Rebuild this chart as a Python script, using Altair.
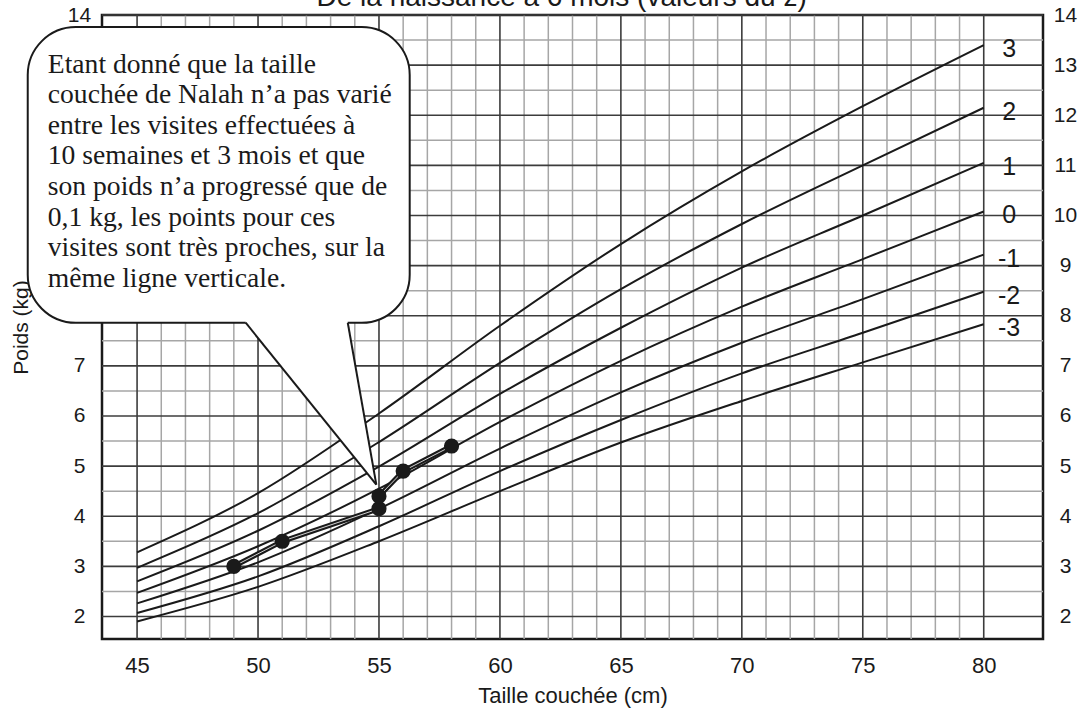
import altair as alt
import pandas as pd

# ---------------------------------------------------------------
# Poids pour la taille couchée (filles), courbes des valeurs du z
# ---------------------------------------------------------------
lengths = [45, 50, 55, 60, 65, 70, 75, 80]
z_neg3 = [1.90, 2.59, 3.50, 4.50, 5.47, 6.30, 7.07, 7.83]
z_neg2 = [2.07, 2.80, 3.80, 4.90, 5.92, 6.85, 7.66, 8.48]
z_neg1 = [2.26, 3.08, 4.15, 5.35, 6.47, 7.46, 8.33, 9.22]
z_0 = [2.47, 3.40, 4.55, 5.88, 7.10, 8.18, 9.13, 10.08]
z_pos1 = [2.70, 3.71, 4.99, 6.44, 7.76, 8.96, 10.00, 11.05]
z_pos2 = [2.97, 4.06, 5.48, 7.06, 8.53, 9.83, 11.00, 12.15]
z_pos3 = [3.28, 4.46, 6.05, 7.80, 9.43, 10.88, 12.18, 13.40]
z_names = ["-3", "-2", "-1", "0", "1", "2", "3"]
z_series = [z_neg3, z_neg2, z_neg1, z_0, z_pos1, z_pos2, z_pos3]

# Visites de Nalah (taille couchée en cm, poids en kg), dans l'ordre
visit_length = [49, 51, 55, 55, 56, 58]
visit_weight = [3.0, 3.5, 4.15, 4.4, 4.9, 5.4]

# Quadrillage
x_major = list(range(45, 81, 5))
x_minor = [v for v in range(45, 81) if v % 5]
y_major = list(range(2, 15))
y_minor = [v + 0.5 for v in range(2, 14)]

# Texte de la bulle
note_lines = [
    "Etant donné que la taille",
    "couchée de Nalah n’a pas varié",
    "entre les visites effectuées à",
    "10 semaines et 3 mois et que",
    "son poids n’a progressé que de",
    "0,1 kg, les points pour ces",
    "visites sont très proches, sur la",
    "même ligne verticale.",
]
title_text = "De la naissance à 6 mois (valeurs du z)"

# Bulle : rectangle (cm, kg) et pointe
bubble_box = {"x": 40.48, "x2": 56.27, "y": 13.76, "y2": 7.86}
tail_left = (49.49, 7.86)
tail_right = (53.71, 7.86)
tail_tip = (54.89, 4.63)

X_DOMAIN = [43.55, 82.45]
Y_DOMAIN = [1.55, 14.0]

INK = "#1a1a1a"
FONT = "Liberation Sans"

# ---------------------------------------------------------------
curves = pd.DataFrame(
    [{"length": l, "weight": w, "z": name}
     for name, series in zip(z_names, z_series)
     for l, w in zip(lengths, series)]
)
z_labels = pd.DataFrame(
    {"z": z_names, "weight": [s[-1] for s in z_series], "length": [81.05] * len(z_names)}
)
visits = pd.DataFrame(
    {"length": visit_length, "weight": visit_weight, "visit": list(range(len(visit_length)))}
)


# fill of the tail, slightly overlapping the bubble's bottom edge
def on_left_edge(x):
    (x0, y0), (x1, y1) = tail_left, tail_tip
    return y0 + (y1 - y0) * (x - x0) / (x1 - x0)


overlap = 0.09
tail_fill = pd.DataFrame({
    "x": [tail_left[0], tail_right[0] - 0.01, tail_right[0], tail_tip[0]],
    "top": [tail_left[1] + overlap, tail_right[1] + overlap, tail_right[1], tail_tip[1]],
})
tail_fill["bottom"] = [tail_left[1], on_left_edge(tail_right[0] - 0.01),
                       on_left_edge(tail_right[0]), tail_tip[1]]
tail_sides = pd.DataFrame({
    "x": [tail_left[0], tail_right[0]], "y": [tail_left[1], tail_right[1]],
    "x2": [tail_tip[0], tail_tip[0]], "y2": [tail_tip[1], tail_tip[1]],
})

xs = alt.Scale(domain=X_DOMAIN, nice=False, zero=False)
ys = alt.Scale(domain=Y_DOMAIN, nice=False, zero=False)

x_axis = alt.Axis(values=x_major, title="Taille couchée (cm)", grid=False, ticks=False,
                  domain=False, labelFontSize=22, labelPadding=16, labelColor=INK,
                  titleFontSize=22, titleFontWeight="normal", titlePadding=9,
                  titleColor=INK, labelFont=FONT, titleFont=FONT)
y_axis_left = alt.Axis(values=y_major, orient="left", title="Poids (kg)", grid=False,
                       ticks=False, domain=False, labelFontSize=21, labelAlign="center",
                       labelPadding=23, labelColor=INK, titleFontSize=21,
                       titleFontWeight="normal", titlePadding=36, titleColor=INK,
                       labelFont=FONT, titleFont=FONT)
y_axis_right = alt.Axis(values=y_major, orient="right", title=None, grid=False,
                        ticks=False, domain=False, labelFontSize=21, labelAlign="center",
                        labelPadding=22, labelColor=INK, labelFont=FONT)


def X(field):
    return alt.X(field, type="quantitative", scale=xs, axis=x_axis)


def YL(field):
    return alt.Y(field, type="quantitative", scale=ys, axis=y_axis_left)


def YR(field):
    return alt.Y(field, type="quantitative", scale=ys, axis=y_axis_right)


# --- quadrillage (porte l'axe de droite) ---
minor_v = alt.Chart(pd.DataFrame({"v": x_minor})).mark_rule(
    color="#a6a6a6", strokeWidth=1.5).encode(x=X("v"))
minor_h = alt.Chart(pd.DataFrame({"v": y_minor})).mark_rule(
    color="#a6a6a6", strokeWidth=1.5).encode(y=YR("v"))
major_v = alt.Chart(pd.DataFrame({"v": x_major})).mark_rule(
    color="#3c3c3c", strokeWidth=1.6).encode(x=X("v"))
major_h = alt.Chart(pd.DataFrame({"v": y_major})).mark_rule(
    color="#3c3c3c", strokeWidth=1.6).encode(y=YR("v"))
grid = alt.layer(minor_v, minor_h, major_v, major_h)

# --- courbes et étiquettes des valeurs du z ---
curve_lines = alt.Chart(curves).mark_line(
    color=INK, strokeWidth=2, interpolate="monotone").encode(
    x=X("length"), y=YL("weight"), detail="z:N")
curve_labels = alt.Chart(z_labels).mark_text(
    fontSize=25, font=FONT, color=INK, align="center", baseline="middle", dy=4).encode(
    x=X("length"), y=YL("weight"), text="z:N")

# --- trajectoire de Nalah ---
path = alt.Chart(visits).mark_line(color=INK, strokeWidth=5).encode(
    x=X("length"), y=YL("weight"), order="visit:Q")
path_core = alt.Chart(visits).mark_line(color="white", strokeWidth=1, opacity=0.8).encode(
    x=X("length"), y=YL("weight"), order="visit:Q")
dots = alt.Chart(visits).mark_point(
    filled=True, color=INK, size=230, opacity=1, shape="circle").encode(
    x=X("length"), y=YL("weight"))

# --- bulle ---
bubble = alt.Chart(pd.DataFrame([bubble_box])).mark_rect(
    fill="white", stroke=INK, strokeWidth=2, cornerRadius=48).encode(
    x=X("x"), x2="x2:Q", y=YL("y"), y2="y2:Q")
tail = alt.Chart(tail_fill).mark_area(fill="white", orient="vertical").encode(
    x=X("x"), y=YL("top"), y2="bottom:Q")
tail_edges = alt.Chart(tail_sides).mark_rule(color=INK, strokeWidth=2).encode(
    x=X("x"), y=YL("y"), x2="x2:Q", y2="y2:Q")
note = alt.Chart(pd.DataFrame({"x": [41.31], "y": [12.85], "t": [note_lines]})).mark_text(
    font="Liberation Serif", fontSize=27.6, lineHeight=30.6, color=INK,
    align="left", baseline="alphabetic").encode(x=X("x"), y=YL("y"), text="t")

# --- titre (partiellement hors cadre en haut) ---
title = alt.Chart(pd.DataFrame({"x": [62.55], "y": [14.18], "t": [title_text]})).mark_text(
    font=FONT, fontSize=28, color=INK, align="center", baseline="alphabetic").encode(
    x=X("x"), y=YL("y"), text="t:N")

main = alt.layer(curve_lines, curve_labels, path, path_core, dots,
                 bubble, tail, tail_edges, note, title)

chart = alt.layer(grid, main).resolve_axis(y="independent").properties(
    width=941, height=624,
    autosize=alt.AutoSizeParams(type="none"),
    padding={"left": 102, "top": 15, "right": 39, "bottom": 77},
    background="white",
).configure_view(stroke=INK, strokeWidth=2.5).configure_text(font=FONT)

chart.save("out.html", embed_options={"renderer": "svg", "actions": False})
